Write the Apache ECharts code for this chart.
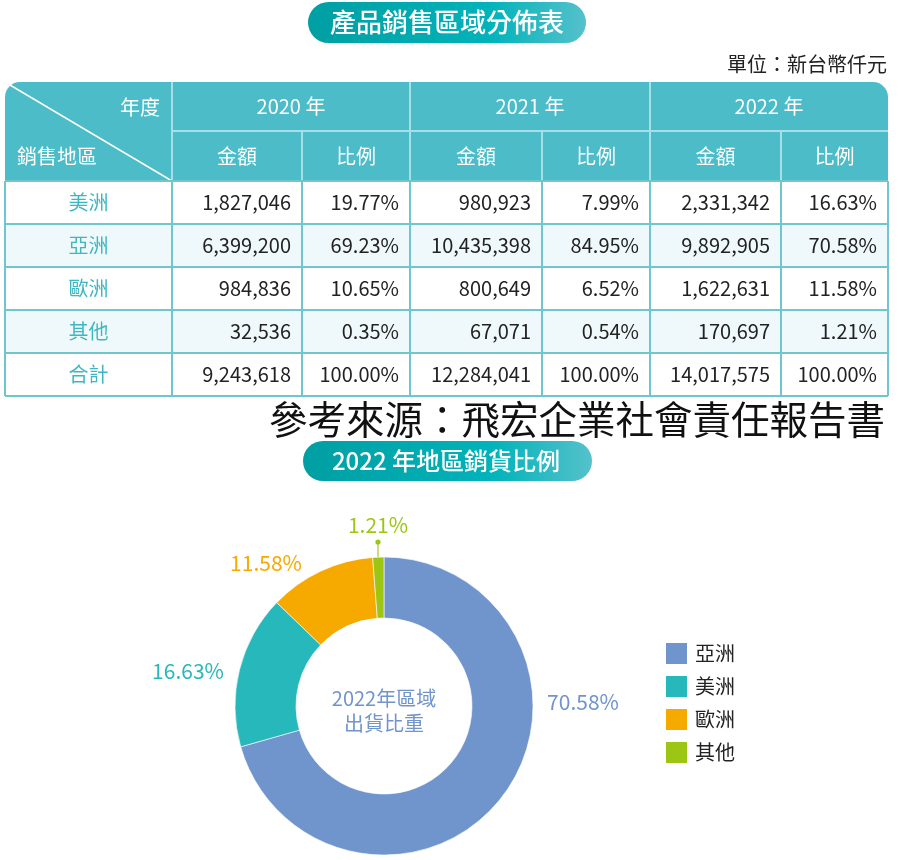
<!DOCTYPE html>
<html><head><meta charset="utf-8">
<script src="https://cdn.jsdelivr.net/npm/echarts@6/dist/echarts.min.js"></script>
<style>html,body{margin:0;padding:0;background:#fff}#c{width:898px;height:860px}</style>
</head><body><div id="c"></div>
<script>
// ---- data ----
const regions = ['美洲', '亞洲', '歐洲', '其他', '合計'];
const years = ['2020 年', '2021 年', '2022 年'];
const subHeaders = ['金額', '比例'];
const amount2020 = [1827046, 6399200, 984836, 32536, 9243618];
const ratio2020 = [19.77, 69.23, 10.65, 0.35, 100.00];
const amount2021 = [980923, 10435398, 800649, 67071, 12284041];
const ratio2021 = [7.99, 84.95, 6.52, 0.54, 100.00];
const amount2022 = [2331342, 9892905, 1622631, 170697, 14017575];
const ratio2022 = [16.63, 70.58, 11.58, 1.21, 100.00];
const pieNames = ['亞洲', '美洲', '歐洲', '其他'];
const pieValues = [70.58, 16.63, 11.58, 1.21];
const pieColors = ['#7094cc', '#27b8bc', '#f6aa00', '#9dc614'];

// ---- layout ----
const FONT = '"Noto Sans CJK TC","Noto Sans CJK SC",sans-serif';
const colX = [5, 172, 302, 410, 542, 650, 781, 888];
const rowY = [82, 131, 181, 224, 267, 310, 353, 396];
const amounts = [amount2020, amount2021, amount2022];
const ratios = [ratio2020, ratio2021, ratio2022];
const fmtNum = v => v.toLocaleString('en-US');
const fmtPct = v => v.toFixed(2) + '%';

const pillGrad = () => new echarts.graphic.LinearGradient(0, 0, 1, 0, [
  {offset: 0, color: '#009fa3'}, {offset: 0.65, color: '#00b3ba'}, {offset: 1, color: '#55c1cb'}
]);

const g = [];
function txt(text, x, y, size, color, align, weight) {
  g.push({type: 'text', x: x, y: y, z: 20, silent: true,
    style: {text: text, fill: color, fontSize: size, fontFamily: FONT, fontWeight: weight || 'normal',
      textAlign: align || 'center', textVerticalAlign: 'middle'}});
}
function line(x1, y1, x2, y2, color, w) {
  g.push({type: 'line', z: 15, silent: true, shape: {x1, y1, x2, y2}, style: {stroke: color, lineWidth: w}});
}

// title pill
g.push({type: 'rect', z: 10, silent: true, shape: {x: 308, y: 2, width: 278, height: 41, r: 20.5}, style: {fill: pillGrad()}});
txt('產品銷售區域分佈表', 447, 22, 26, '#fff', 'center', 500);
txt('單位：新台幣仟元', 887, 64, 20, '#222', 'right');

// header block
const L = colX[0], R = colX[colX.length - 1];
g.push({type: 'rect', z: 10, silent: true, shape: {x: L, y: rowY[0], width: R - L, height: rowY[2] - rowY[0], r: [15, 15, 0, 0]}, style: {fill: '#4bbcc8'}});
const hdrLine = '#a6dfe5';
line(colX[1], rowY[0], colX[1], rowY[2], hdrLine, 2);
line(colX[3], rowY[0], colX[3], rowY[2], hdrLine, 2);
line(colX[5], rowY[0], colX[5], rowY[2], hdrLine, 2);
line(colX[2], rowY[1], colX[2], rowY[2], hdrLine, 2);
line(colX[4], rowY[1], colX[4], rowY[2], hdrLine, 2);
line(colX[6], rowY[1], colX[6], rowY[2], hdrLine, 2);
line(colX[1], rowY[1], R, rowY[1], hdrLine, 2);
line(10, 85, colX[1], rowY[2], '#ffffff', 1.5);
txt('年度', 160, 107, 20, '#fff', 'right');
txt('銷售地區', 17, 156, 20, '#fff', 'left');
years.forEach((y, j) => {
  txt(y, (colX[1 + 2 * j] + colX[3 + 2 * j]) / 2, (rowY[0] + rowY[1]) / 2, 20, '#fff');
  subHeaders.forEach((s, k) => {
    txt(s, (colX[1 + 2 * j + k] + colX[2 + 2 * j + k]) / 2, (rowY[1] + rowY[2]) / 2, 20, '#fff');
  });
});

// body
regions.forEach((r, i) => {
  const y0 = rowY[2 + i], y1 = rowY[3 + i], cy = (y0 + y1) / 2;
  g.push({type: 'rect', z: 5, silent: true, shape: {x: L, y: y0, width: R - L, height: y1 - y0}, style: {fill: i % 2 === 1 ? '#eff8fa' : '#ffffff'}});
  txt(r, (colX[0] + colX[1]) / 2, cy, 20, '#3fb7c1');
  for (let j = 0; j < 3; j++) {
    txt(fmtNum(amounts[j][i]), colX[2 + 2 * j] - 11, cy, 20, '#222', 'right');
    txt(fmtPct(ratios[j][i]), colX[3 + 2 * j] - 11, cy, 20, '#222', 'right');
  }
});
const bodyLine = '#70c6cf';
for (let k = 2; k < rowY.length; k++) line(L, rowY[k], R, rowY[k], bodyLine, 2);
colX.forEach(x => line(x, rowY[2], x, rowY[rowY.length - 1], bodyLine, 2));

// source
txt('參考來源：飛宏企業社會責任報告書', 885, 419, 38.5, '#111', 'right');

// second pill
g.push({type: 'rect', z: 10, silent: true, shape: {x: 303, y: 441, width: 289, height: 40, r: 20}, style: {fill: pillGrad()}});
txt('2022 年地區銷貨比例', 446, 461, 24, '#fff', 'center', 500);

// donut center text
g.push({type: 'text', x: 384, y: 711, z: 20, silent: true,
  style: {text: '2022年區域\n出貨比重', fill: '#7094cc', fontSize: 20, lineHeight: 25, fontFamily: FONT,
    textAlign: 'center', textVerticalAlign: 'middle'}});
// label-line end dot
g.push({type: 'circle', z: 20, silent: true, shape: {cx: 378, cy: 542, r: 2.6}, style: {fill: '#9dc614'}});

const labelPos = [[583, 702], [188, 671], [266, 563], [378, 525]];

const chart = echarts.init(document.getElementById('c'), null, {renderer: 'canvas'});
chart.setOption({
  animation: false,
  backgroundColor: '#fff',
  graphic: g,
  legend: {
    orient: 'vertical', left: 664, top: 641, padding: 0, itemWidth: 23, itemHeight: 23, itemGap: 8, icon: 'rect',
    data: pieNames, selectedMode: false,
    textStyle: {fontSize: 20, lineHeight: 23, color: '#222', fontFamily: FONT, padding: [0, 0, 0, 2]}
  },
  series: [{
    type: 'pie', center: [384, 706], radius: [88, 149], startAngle: 90, clockwise: true,
    avoidLabelOverlap: false, silent: true, emphasis: {disabled: true},
    itemStyle: {borderColor: '#ffffff', borderWidth: 0.6},
    data: pieNames.map((n, i) => ({
      name: n, value: pieValues[i], itemStyle: {color: pieColors[i]},
      label: {color: pieColors[i]}, labelLine: {show: i === 3}
    })),
    label: {show: true, position: 'outside', fontSize: 21, fontFamily: FONT,
      formatter: p => p.value.toFixed(2) + '%'},
    labelLine: {show: false, length: 10, length2: 0, lineStyle: {color: '#b4d35a', width: 1.5}},
    labelLayout: p => {
      const pos = labelPos[p.dataIndex];
      const o = {x: pos[0], y: pos[1], align: 'center', verticalAlign: 'middle'};
      if (p.dataIndex === 3) o.labelLinePoints = [[378, 557], [378, 550], [378, 542]];
      return o;
    }
  }]
});
</script>
</body></html>
